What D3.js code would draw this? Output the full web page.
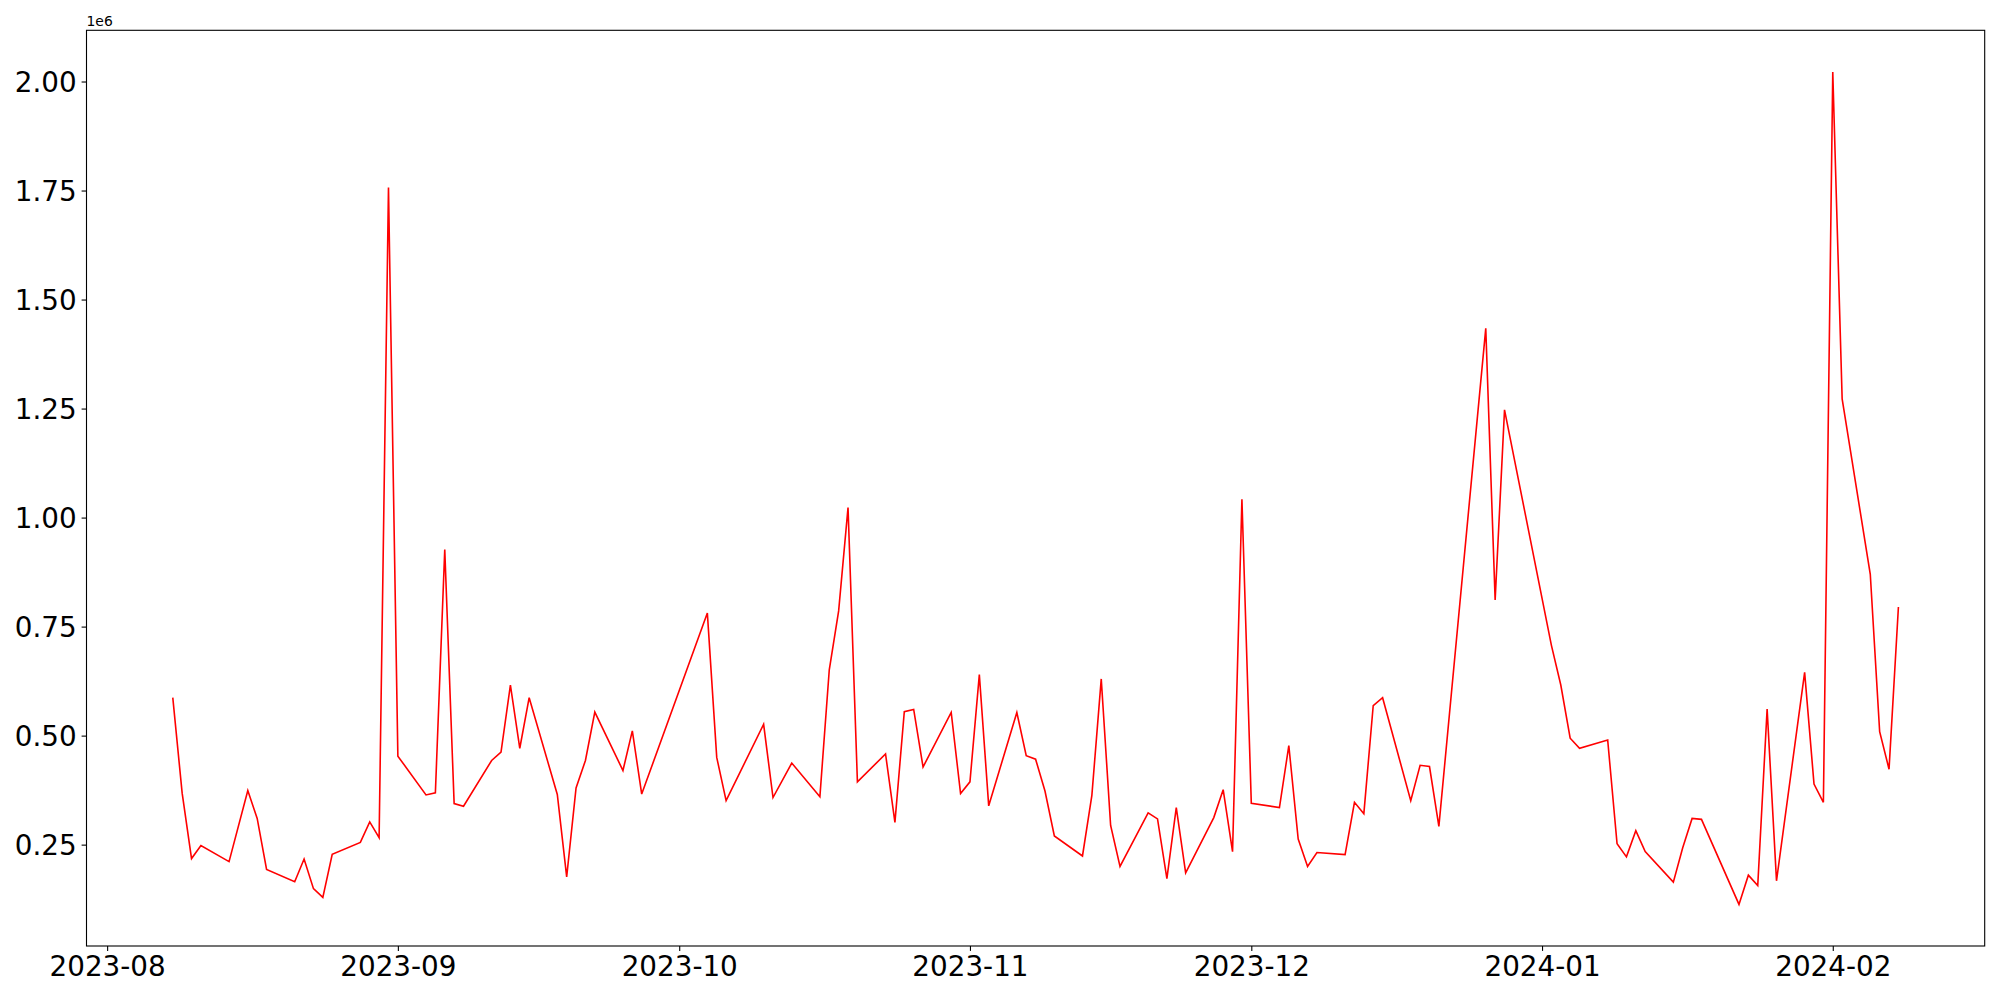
<!DOCTYPE html>
<html>
<head>
<meta charset="utf-8">
<script src="https://cdn.jsdelivr.net/npm/d3@7"></script>
<style>
  html, body { margin: 0; padding: 0; background: #fff; }
  svg { display: block; }
  text { font-family: "DejaVu Sans", sans-serif; fill: #000; }
</style>
</head>
<body>
<svg id="chart" width="2000" height="1000"></svg>
<script>
// ---- data (values in units of 1e6) ----
const dates = [
  "2023-08-08","2023-08-09","2023-08-10","2023-08-11","2023-08-14","2023-08-16","2023-08-17","2023-08-18",
  "2023-08-21","2023-08-22","2023-08-23","2023-08-24","2023-08-25","2023-08-28","2023-08-29","2023-08-30",
  "2023-08-31","2023-09-01","2023-09-04","2023-09-05","2023-09-06","2023-09-07","2023-09-08","2023-09-11",
  "2023-09-12","2023-09-13","2023-09-14","2023-09-15","2023-09-18","2023-09-19","2023-09-20","2023-09-21",
  "2023-09-22","2023-09-25","2023-09-26","2023-09-27","2023-10-04","2023-10-05","2023-10-06","2023-10-10",
  "2023-10-11","2023-10-13","2023-10-16","2023-10-17","2023-10-18","2023-10-19","2023-10-20","2023-10-23",
  "2023-10-24","2023-10-25","2023-10-26","2023-10-27","2023-10-30","2023-10-31","2023-11-01","2023-11-02",
  "2023-11-03","2023-11-06","2023-11-07","2023-11-08","2023-11-09","2023-11-10","2023-11-13","2023-11-14",
  "2023-11-15","2023-11-16","2023-11-17","2023-11-20","2023-11-21","2023-11-22","2023-11-23","2023-11-24",
  "2023-11-27","2023-11-28","2023-11-29","2023-11-30","2023-12-01","2023-12-04","2023-12-05","2023-12-06",
  "2023-12-07","2023-12-08","2023-12-11","2023-12-12","2023-12-13","2023-12-14","2023-12-15","2023-12-18",
  "2023-12-19","2023-12-20","2023-12-21","2023-12-26","2023-12-27","2023-12-28","2024-01-02","2024-01-03",
  "2024-01-04","2024-01-05","2024-01-08","2024-01-09","2024-01-10","2024-01-11","2024-01-12","2024-01-15",
  "2024-01-16","2024-01-17","2024-01-18","2024-01-22","2024-01-23","2024-01-24","2024-01-25","2024-01-26",
  "2024-01-29","2024-01-30","2024-01-31","2024-02-01","2024-02-02","2024-02-05","2024-02-06","2024-02-07",
  "2024-02-08"
];
const values = [
  0.587,0.368,0.218,0.248,0.211,0.374,0.310,0.193,
  0.165,0.217,0.149,0.129,0.228,0.255,0.302,0.266,
  1.757,0.453,0.364,0.369,0.927,0.344,0.338,0.443,
  0.462,0.616,0.471,0.587,0.365,0.176,0.380,0.443,
  0.554,0.420,0.511,0.366,0.781,0.450,0.351,0.526,
  0.358,0.437,0.360,0.651,0.786,1.023,0.394,0.458,
  0.301,0.555,0.560,0.428,0.553,0.367,0.394,0.640,
  0.339,0.553,0.454,0.446,0.373,0.270,0.224,0.363,
  0.630,0.294,0.200,0.323,0.309,0.172,0.335,0.185,
  0.312,0.376,0.234,1.042,0.345,0.335,0.477,0.263,
  0.200,0.232,0.227,0.347,0.321,0.569,0.587,0.351,
  0.432,0.429,0.292,1.434,0.811,1.247,0.707,0.616,
  0.494,0.471,0.490,0.252,0.222,0.282,0.234,0.164,
  0.243,0.310,0.308,0.113,0.180,0.156,0.561,0.167,
  0.645,0.389,0.347,2.022,1.272,0.870,0.509,0.423,
  0.795
].map(v => v * 1e6);
const yTickValues = [250000, 500000, 750000, 1000000, 1250000, 1500000, 1750000, 2000000];
const yTickLabels = ["0.25","0.50","0.75","1.00","1.25","1.50","1.75","2.00"];
const xTickDates = ["2023-08-01","2023-09-01","2023-10-01","2023-11-01","2023-12-01","2024-01-01","2024-02-01"];
const xTickLabels = ["2023-08","2023-09","2023-10","2023-11","2023-12","2024-01","2024-02"];
const offsetLabel = "1e6";

// ---- layout ----
const parse = d3.utcParse("%Y-%m-%d");
const data = dates.map((d, i) => ({ date: parse(d), value: values[i] }));
const plotL = 86.5, plotR = 1984.7, plotT = 30.3, plotB = 946;
const svg = d3.select("#chart");

const xExt = d3.extent(data, d => d.date);
const xPad = (xExt[1] - xExt[0]) * 0.05;
const x = d3.scaleUtc()
  .domain([new Date(+xExt[0] - xPad), new Date(+xExt[1] + xPad)])
  .range([plotL, plotR]);
const yExt = d3.extent(data, d => d.value);
const yPad = (yExt[1] - yExt[0]) * 0.05;
const y = d3.scaleLinear()
  .domain([yExt[0] - yPad, yExt[1] + yPad])
  .range([plotB, plotT]);

// line
svg.append("path")
  .datum(data)
  .attr("fill", "none")
  .attr("stroke", "#ff0000")
  .attr("stroke-width", 1.6)
  .attr("stroke-linejoin", "miter")
  .attr("d", d3.line().x(d => x(d.date)).y(d => y(d.value)));

// axes
const xAxis = d3.axisBottom(x)
  .tickValues(xTickDates.map(parse))
  .tickFormat((d, i) => xTickLabels[i])
  .tickSizeInner(4.9).tickSizeOuter(0).tickPadding(4.9);
const gx = svg.append("g").attr("transform", `translate(0,${plotB})`).call(xAxis);
gx.select(".domain").remove();
gx.selectAll(".tick line").attr("stroke", "#000").attr("stroke-width", 1.1);
gx.selectAll(".tick text").attr("font-size", "27.8px").attr("font-family", "DejaVu Sans").attr("fill", "#000").attr("dy", "0.72em");

const yAxis = d3.axisLeft(y)
  .tickValues(yTickValues)
  .tickFormat((d, i) => yTickLabels[i])
  .tickSizeInner(4.9).tickSizeOuter(0).tickPadding(4.9);
const gy = svg.append("g").attr("transform", `translate(${plotL},0)`).call(yAxis);
gy.select(".domain").remove();
gy.selectAll(".tick line").attr("stroke", "#000").attr("stroke-width", 1.1);
gy.selectAll(".tick text").attr("font-size", "27.8px").attr("font-family", "DejaVu Sans").attr("fill", "#000").attr("dy", "0.36em");

// frame
svg.append("rect")
  .attr("x", plotL).attr("y", plotT)
  .attr("width", plotR - plotL).attr("height", plotB - plotT)
  .attr("fill", "none").attr("stroke", "#000").attr("stroke-width", 1.1);

// offset text
svg.append("text")
  .attr("x", plotL).attr("y", 26)
  .attr("font-size", "13.9px")
  .text(offsetLabel);
</script>
</body>
</html>
